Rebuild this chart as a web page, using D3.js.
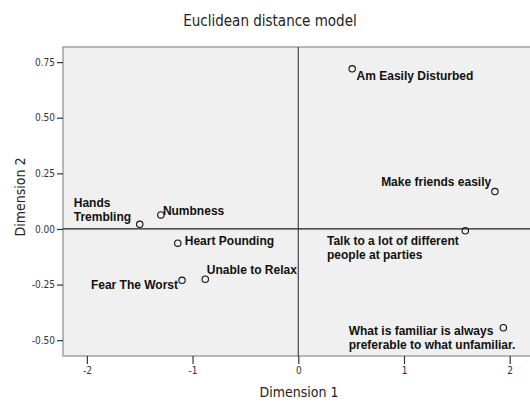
<!DOCTYPE html>
<html><head><meta charset="utf-8">
<script src="https://cdn.jsdelivr.net/npm/d3@7"></script>
<style>
body{margin:0;background:#fff;}
svg{display:block;}
.narrow{font-family:"DejaVu Sans Condensed","DejaVu Sans",sans-serif;font-stretch:condensed;}
</style></head><body>
<svg id="chart" width="530" height="404"></svg>
<script>
const labels = ["Am Easily Disturbed","Make friends easily","Talk to a lot of different\npeople at parties","What is familiar is always\npreferable to what unfamiliar.","Hands\nTrembling","Numbness","Heart Pounding","Fear The Worst","Unable to Relax"];
const dim1 = [0.51, 1.86, 1.58, 1.94, -1.50, -1.30, -1.14, -1.10, -0.88];
const dim2 = [0.72, 0.168, -0.008, -0.444, 0.021, 0.063, -0.064, -0.231, -0.226];
const xTicks = [-2, -1, 0, 1, 2];
const yTicks = [-0.50, -0.25, 0.00, 0.25, 0.50, 0.75];

// label placement (pixel offsets from point)
const labelPlace = [
  {dx:4.4, dy:11.3, anchor:"start"},
  {dx:-3.7, dy:-6, anchor:"end"},
  {dx:-138.3, dy:14.3, anchor:"start"},
  {dx:-154.7, dy:7.3, anchor:"start"},
  {dx:-66, dy:-17.3, anchor:"start"},
  {dx:2, dy:0, anchor:"start"},
  {dx:7, dy:1.7, anchor:"start"},
  {dx:-4, dy:9, anchor:"end"},
  {dx:1.6, dy:-5.3, anchor:"start"}
];

const svg = d3.select("#chart");
const L = 63, T = 47, R = 531, B = 356;
const x = d3.scaleLinear().domain([-2.226, 2.2]).range([L, L + (2.2+2.226)*105.7]);
const y = d3.scaleLinear().domain([-0.571, 0.818]).range([B, T]);

svg.append("rect").attr("x", L).attr("y", T).attr("width", R - L).attr("height", B - T)
  .attr("fill", "#f0f0f0").attr("stroke", "#8c8c8c").attr("stroke-width", 1.2);

// reference lines
svg.append("line").attr("x1", x(0)).attr("x2", x(0)).attr("y1", T).attr("y2", B)
  .attr("stroke", "#444").attr("stroke-width", 1.2);
svg.append("line").attr("x1", L).attr("x2", R).attr("y1", y(0)).attr("y2", y(0))
  .attr("stroke", "#222").attr("stroke-width", 1.2);

// axes
const xAxis = svg.append("g").attr("transform", `translate(0,${B})`)
  .call(d3.axisBottom(x).tickValues(xTicks).tickFormat(d3.format("d")).tickSize(8).tickPadding(3));
const yAxis = svg.append("g").attr("transform", `translate(${L},0)`)
  .call(d3.axisLeft(y).tickValues(yTicks).tickFormat(d => d3.format(".2f")(d)).tickSize(6).tickPadding(2));
[xAxis, yAxis].forEach(g => {
  g.select(".domain").remove();
  g.selectAll(".tick line").attr("stroke", "#333").attr("stroke-width", 1.2);
  g.selectAll(".tick text").attr("class", "narrow").attr("font-size", 10).attr("fill", "#333")
    .attr("font-family", null);
});
xAxis.selectAll(".tick text").text(d => d < 0 ? "-" + Math.abs(d) : d);
yAxis.selectAll(".tick text").text(d => (d < 0 ? "-" : "") + d3.format(".2f")(Math.abs(d)));

// points
const data = labels.map((l, i) => ({label: l, x: dim1[i], y: dim2[i], p: labelPlace[i]}));
svg.append("g").selectAll("circle").data(data).join("circle")
  .attr("cx", d => x(d.x)).attr("cy", d => y(d.y)).attr("r", 3.2)
  .attr("fill", "none").attr("stroke", "#111").attr("stroke-width", 1.1);

const tg = svg.append("g").attr("font-family", "'Liberation Sans', Arial, sans-serif")
  .attr("font-weight", "bold").attr("font-size", 12).attr("fill", "#111");
data.forEach(d => {
  const t = tg.append("text").attr("text-anchor", d.p.anchor);
  d.label.split("\n").forEach((line, k) => {
    t.append("tspan").attr("x", x(d.x) + d.p.dx).attr("y", y(d.y) + d.p.dy + k * 14).text(line);
  });
});

// title & axis titles
svg.append("text").attr("class", "narrow").attr("x", 270).attr("y", 26).attr("text-anchor", "middle")
  .attr("font-size", 15).attr("fill", "#222").text("Euclidean distance model");
svg.append("text").attr("class", "narrow").attr("x", 299).attr("y", 397).attr("text-anchor", "middle")
  .attr("font-size", 14).attr("fill", "#222").text("Dimension 1");
svg.append("text").attr("class", "narrow").attr("transform", "translate(25,197) rotate(-90)").attr("text-anchor", "middle")
  .attr("font-size", 14).attr("fill", "#222").text("Dimension 2");
</script></body></html>
